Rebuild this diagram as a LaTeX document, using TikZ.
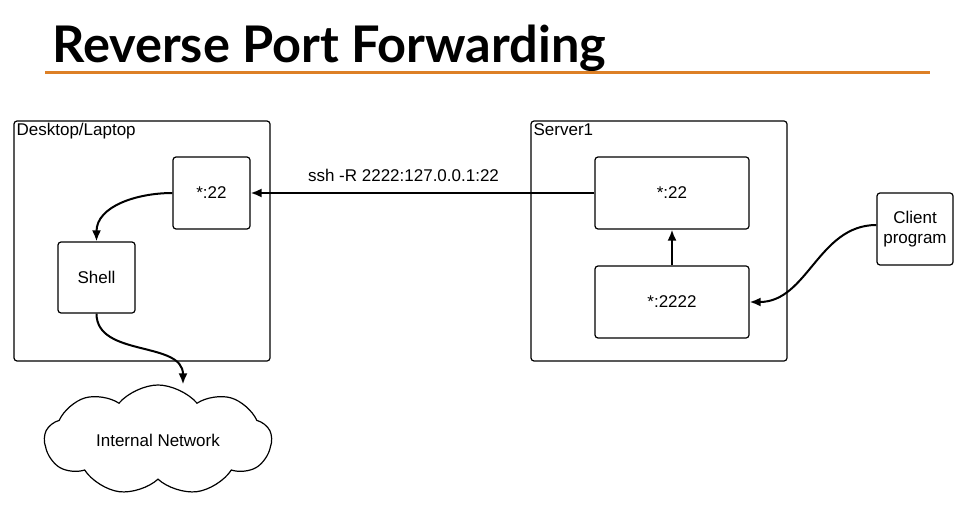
\documentclass[tikz,border=0pt]{standalone}
\usepackage{fontspec}
\setmainfont{Liberation Sans}
\newfontfamily\titlefont{Lato}
\usepackage{xcolor}
\usepackage{tikz}
\usetikzlibrary{arrows.meta,positioning,shapes.symbols}
\definecolor{ruleorange}{RGB}{221,128,38}

\begin{document}
\begin{tikzpicture}[x=1pt,y=-1pt,font=\fontsize{17}{19.5}\selectfont,>={Latex[length=11pt,width=9pt]},
  frame/.style={draw,line width=1.2pt,rounded corners=3pt,inner sep=0pt},
  port/.style={frame,minimum width=77pt,minimum height=72pt},
  link/.style={->,line width=2pt}]
  \useasboundingbox (0,0) rectangle (968,513);
  % title
  \node (title) [anchor=base west,inner sep=0pt,font=\titlefont\bfseries\fontsize{50.5}{58}\selectfont] at (52,63) {Reverse Port Forwarding};
  \draw[ruleorange,line width=3pt] (45,73) -- (930,73);
  % machines
  \node (desk) [frame,minimum width=256pt,minimum height=240pt] at (142,241) {};
  \node [anchor=north west,inner sep=3pt] at (desk.north west) {Desktop/Laptop};
  \node (srv) [frame,minimum width=256pt,minimum height=240pt] at (659,241) {};
  \node [anchor=north west,inner sep=3pt] at (srv.north west) {Server1};
  % ports
  \node (lport) [port] at (211.5,193) {*:22};
  \node (shell) [port,minimum height=71pt] at (96.5,277.5) {Shell};
  \node (sport) [port,minimum width=154pt] at (672,193) {*:22};
  \node (fwd) [port,minimum width=154pt] at (672,302) {*:2222};
  \node (client) [port,minimum width=76pt,align=center] at (915,229) {Client\\program};
  \node (net) [cloud,draw,line width=1.2pt,cloud puffs=9,cloud puff arc=100,aspect=2.1,
    minimum width=227pt,minimum height=110pt,inner sep=0pt] at (158,440) {Internal Network};
  % connections
  \draw[link] (sport.west) -- node[above=7pt,xshift=-19pt,font=\fontsize{17}{20}\selectfont]{ssh -R 2222:127.0.0.1:22} (lport.east);
  \draw[link] (fwd.north) -- (sport.south);
  \draw[link] (lport.west) to[out=180,in=90] (shell.north);
  \draw[link] ([yshift=4pt]client.west) to[out=180,in=0] (fwd.east);
  \draw[link] (shell.south) to[out=-90,in=90] ([xshift=25pt]net.north);
\end{tikzpicture}
\end{document}
